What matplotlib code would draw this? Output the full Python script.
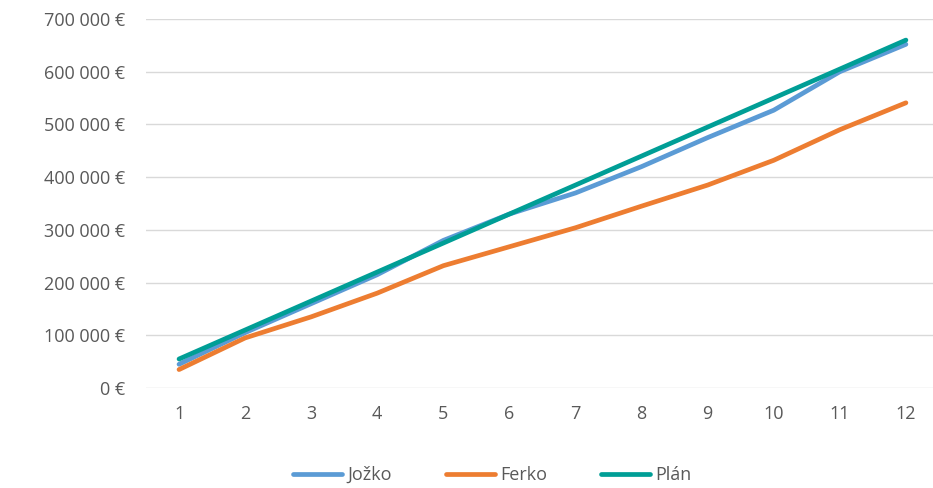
import matplotlib
matplotlib.use('Agg')
import matplotlib.pyplot as plt
from matplotlib.ticker import FuncFormatter

months = [1, 2, 3, 4, 5, 6, 7, 8, 9, 10, 11, 12]
jozko = [45000, 105000, 160000, 215000, 280000, 330000, 370000, 420000, 475000, 527000, 600000, 652000]
ferko = [35000, 95000, 135000, 180000, 232000, 268000, 304000, 345000, 385000, 432000, 490000, 541000]
plan = [55000, 110000, 165000, 220000, 275000, 330000, 385000, 440000, 495000, 550000, 605000, 660000]

plt.rcParams['font.family'] = ['Open Sans', 'DejaVu Sans']

fig = plt.figure(figsize=(9.33, 4.88), dpi=100)
ax = fig.add_axes([146 / 933, 1 - 388 / 488, 1 - 146 / 933, (388 - 19) / 488])

ax.plot(months, jozko, color='#5B9BD5', lw=3.4, label='Jožko', solid_capstyle='round')
ax.plot(months, ferko, color='#ED7D31', lw=3.4, label='Ferko', solid_capstyle='round')
ax.plot(months, plan, color='#009E96', lw=3.4, label='Plán', solid_capstyle='round')

ax.set_ylim(0, 700000)
ax.set_xlim(0.5, 12.41)
ax.set_yticks(range(0, 700001, 100000))
ax.set_xticks(months)
ax.yaxis.set_major_formatter(FuncFormatter(lambda v, p: f'{int(v):,} €'.replace(',', ' ')))
ax.grid(axis='y', color='#D9D9D9', lw=1)
ax.set_axisbelow(True)
for s in ax.spines.values():
    s.set_visible(False)
ax.tick_params(length=0, colors='#595959', labelsize=13)
ax.tick_params(axis='y', pad=15)
ax.tick_params(axis='x', pad=12)

fig.legend(loc='center', bbox_to_anchor=(0.528, 1 - 475 / 488), ncol=3, frameon=False,
           fontsize=13, labelcolor='#595959', handlelength=2.7, columnspacing=3.0, handletextpad=0.3)

fig.savefig('out.png', dpi=100)
